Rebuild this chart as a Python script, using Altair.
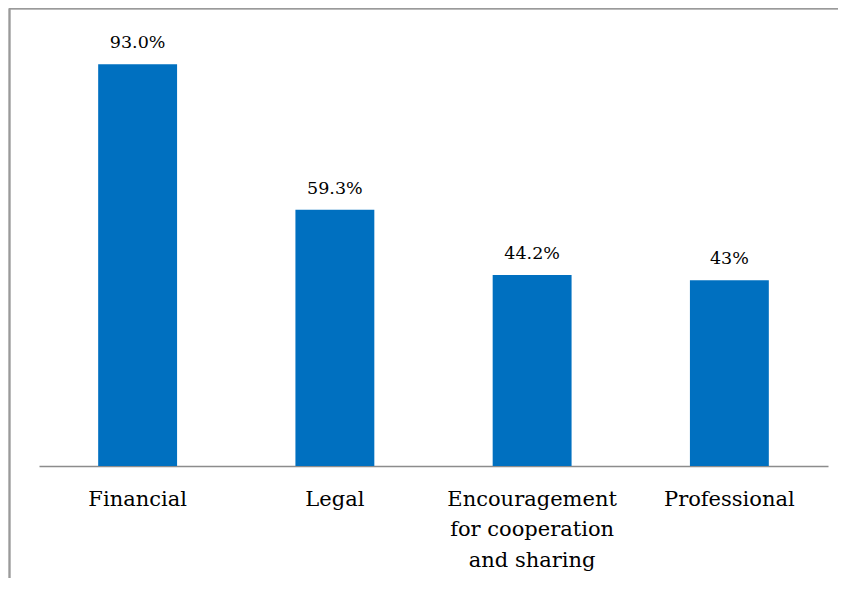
import altair as alt
import pandas as pd

categories = ["Financial", "Legal", "Encouragement|for cooperation|and sharing", "Professional"]
values = [93.0, 59.3, 44.2, 43.0]
labels = ["93.0%", "59.3%", "44.2%", "43%"]

df = pd.DataFrame({"cat": categories, "val": values, "lab": labels})

FONT = "DejaVu Serif"

x_enc = alt.X("cat:N", sort=categories,
              scale=alt.Scale(paddingInner=0.6, paddingOuter=0.3),
              axis=alt.Axis(title=None, labelAngle=0, ticks=False,
                            domainColor="#8c8c8c", domainWidth=1.5,
                            labelFont=FONT, labelFontSize=21, labelColor="#000000",
                            labelPadding=22, labelBaseline="top", labelLineHeight=30.5,
                            labelExpr="split(datum.label, '|')"))
y_enc = alt.Y("val:Q", scale=alt.Scale(domain=[0, 100]), axis=None)

bars = alt.Chart(df).mark_bar(color="#0070C0").encode(x=x_enc, y=y_enc)
text = alt.Chart(df).mark_text(font=FONT, fontSize=17.5, color="#000000",
                               baseline="alphabetic", dy=-16).encode(
    x=alt.X("cat:N", sort=categories), y="val:Q", text="lab:N")

frame_top = alt.Chart(df).mark_rule(color="#9a9a9a", strokeWidth=1.5).encode(
    x=alt.value(-29.5), x2=alt.value(820), y=alt.value(-25.5))
frame_left = alt.Chart(df).mark_rule(color="#9a9a9a", strokeWidth=1.5).encode(
    x=alt.value(-29.5), y=alt.value(-25.5), y2=alt.value(600))

chart = alt.layer(frame_top, frame_left, bars, text).properties(
    width=789, height=432,
    background="#ffffff",
    autosize=alt.AutoSizeParams(type="none"),
    padding={"left": 31, "top": 26, "right": 10, "bottom": 112},
).configure_view(strokeWidth=0)

chart.save("out.html", embed_options={"renderer": "svg", "actions": False})
